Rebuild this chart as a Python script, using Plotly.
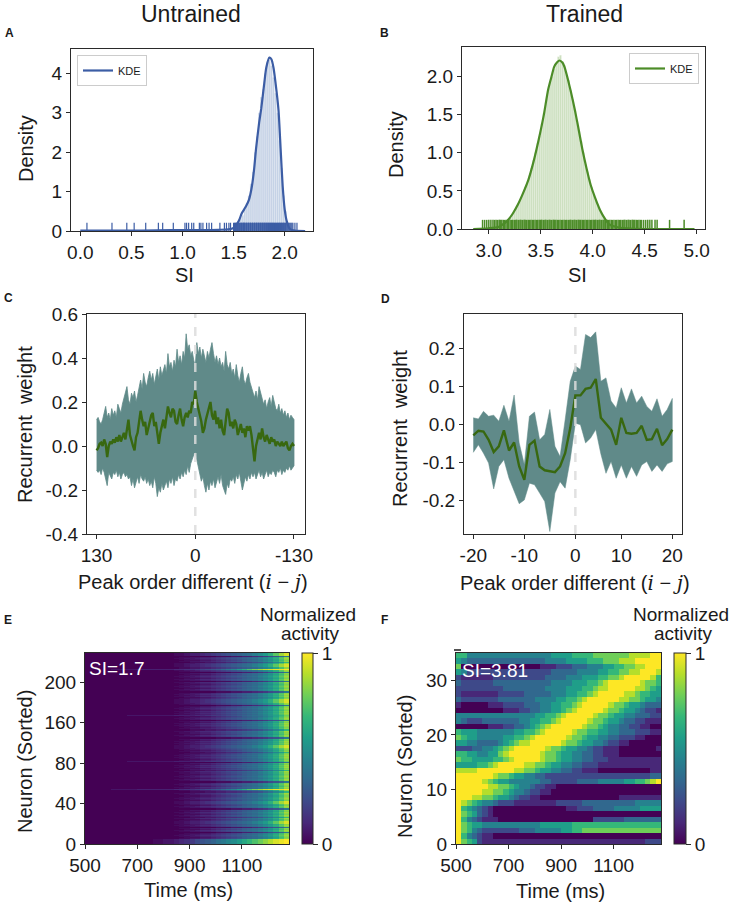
import plotly.graph_objects as go

W, H = 736, 909
FONT = "Liberation Sans"
INK = "#1a1a1a"

# ---------------- data ----------------
# A: untrained SI distribution
A_BIN_START, A_BIN_W = 1.50, 0.02
A_HIST = [0.05, 0.10, 0.20, 0.35, 0.40, 0.55, 0.70, 0.90, 1.20, 1.50,
          2.00, 2.40, 3.00, 3.40, 3.60, 4.00, 4.30, 4.35, 4.20, 3.90,
          3.50, 3.00, 2.30, 1.60, 0.90, 0.50, 0.20, 0.08, 0.05, 0.03]
A_KDE_X = [0.0, 0.3, 0.6, 0.9, 1.2, 1.35, 1.45, 1.50, 1.55, 1.58, 1.62, 1.65, 1.68, 1.70, 1.72,
           1.75, 1.77, 1.80, 1.82, 1.85, 1.87, 1.89, 1.92, 1.94, 1.96, 1.98, 2.00, 2.02, 2.05, 2.10, 2.20]
A_KDE_Y = [0.01, 0.01, 0.01, 0.02, 0.02, 0.03, 0.04, 0.08, 0.25, 0.45, 0.62, 0.79, 1.15, 1.55, 2.10,
           2.75, 3.10, 3.75, 4.15, 4.40, 4.36, 4.15, 3.55, 3.05, 2.10, 1.15, 0.55, 0.25, 0.05, 0.01, 0.00]
A_RUG = [0.065, 0.31, 0.455, 0.527, 0.64, 0.764, 0.806, 0.91, 1.024, 1.04, 1.06, 1.09, 1.11, 1.165,
         1.18, 1.20, 1.236, 1.26, 1.285, 1.366, 1.41, 1.43, 1.454, 1.47,
         1.50, 1.51, 1.515, 1.52, 1.53, 1.535, 1.54, 1.55, 1.555, 1.56, 1.57, 1.575, 1.58, 1.59,
         1.595, 1.60, 1.605, 1.61, 1.62, 1.625, 1.63, 1.64, 1.645, 1.65, 1.66, 1.665, 1.67, 1.68,
         1.685, 1.69, 1.70, 1.705, 1.71, 1.72, 1.725, 1.73, 1.74, 1.745, 1.75, 1.76, 1.765, 1.77,
         1.78, 1.785, 1.79, 1.80, 1.805, 1.81, 1.82, 1.825, 1.83, 1.84, 1.845, 1.85, 1.86, 1.865,
         1.87, 1.88, 1.885, 1.89, 1.90, 1.905, 1.91, 1.92, 1.925, 1.93, 1.94, 1.945, 1.95, 1.96,
         1.965, 1.97, 1.98, 1.985, 1.99, 2.00, 2.005, 2.01, 2.02, 2.03, 2.04, 2.05, 2.06, 2.07,
         2.08, 2.10, 2.12]

# B: trained SI distribution
B_BIN_START, B_BIN_W = 3.10, 0.02
B_HIST = [0.02, 0.03, 0.05, 0.08, 0.10, 0.15, 0.20, 0.24, 0.30, 0.34,
          0.42, 0.48, 0.55, 0.60, 0.70, 0.80, 0.90, 1.00, 1.12, 1.22,
          1.38, 1.52, 1.65, 1.80, 1.92, 2.00, 2.10, 2.18, 2.26, 2.28,
          2.20, 2.15, 2.02, 1.95, 1.82, 1.70, 1.55, 1.40, 1.28, 1.15,
          1.00, 0.85, 0.75, 0.65, 0.55, 0.45, 0.38, 0.32, 0.25, 0.20,
          0.16, 0.12, 0.09, 0.07, 0.05, 0.04, 0.03, 0.02, 0.02, 0.01]
B_KDE_X = [2.85, 3.00, 3.10, 3.18, 3.23, 3.28, 3.33, 3.38, 3.43, 3.48, 3.53, 3.57, 3.60, 3.63, 3.66, 3.68,
           3.71, 3.73, 3.76, 3.79, 3.83, 3.86, 3.90, 3.94, 3.98, 4.02, 4.07, 4.12, 4.16, 4.25, 4.50, 4.98]
B_KDE_Y = [0.00, 0.01, 0.03, 0.11, 0.20, 0.32, 0.47, 0.64, 0.88, 1.17, 1.50, 1.82, 1.98, 2.13, 2.19, 2.21,
           2.18, 2.12, 1.97, 1.80, 1.55, 1.34, 1.05, 0.80, 0.58, 0.42, 0.25, 0.13, 0.06, 0.02, 0.00, 0.00]
B_RUG = [2.94, 2.96, 2.98, 3.00, 3.02, 3.04, 3.055,
         3.07, 3.085, 3.10, 3.11, 3.125, 3.14, 3.15, 3.165, 3.18, 3.19, 3.205, 3.22, 3.23, 3.245,
         3.26, 3.27, 3.285, 3.30, 3.31, 3.325, 3.34, 3.35, 3.365, 3.38, 3.39, 3.405, 3.42, 3.43,
         3.445, 3.46, 3.47, 3.485, 3.50, 3.51, 3.525, 3.54, 3.55, 3.565, 3.58, 3.59, 3.605, 3.62,
         3.63, 3.645, 3.66, 3.67, 3.685, 3.70, 3.71, 3.725, 3.74, 3.75, 3.765, 3.78, 3.79, 3.805,
         3.82, 3.83, 3.845, 3.86, 3.87, 3.885, 3.90, 3.91, 3.925, 3.94, 3.95, 3.965, 3.98, 3.99,
         4.005, 4.02, 4.03, 4.045, 4.06, 4.07, 4.085, 4.10, 4.11, 4.125, 4.14, 4.15, 4.165, 4.18,
         4.19, 4.205, 4.22, 4.23, 4.245, 4.26, 4.27, 4.285, 4.30, 4.31, 4.325, 4.34, 4.35, 4.365,
         4.38, 4.39, 4.405, 4.42, 4.43, 4.445, 4.46, 4.47, 4.49, 4.51, 4.53, 4.55, 4.57, 4.60,
         4.62, 4.74, 4.88]

# C: untrained recurrent weight vs peak order difference (130 .. -130, step 2)
C_PEAK_ORDER = list(range(130, -131, -2))
C_UPPER = [0.12, 0.13, 0.11, 0.10, 0.12, 0.16, 0.18, 0.13, 0.15, 0.12,
           0.17, 0.14, 0.16, 0.13, 0.19, 0.17, 0.15, 0.19, 0.22, 0.25,
           0.27, 0.21, 0.19, 0.24, 0.22, 0.25, 0.20, 0.23, 0.27, 0.30,
           0.26, 0.33, 0.29, 0.27, 0.31, 0.34, 0.30, 0.33, 0.28, 0.31,
           0.35, 0.30, 0.36, 0.32, 0.34, 0.37, 0.33, 0.42, 0.36, 0.38,
           0.34, 0.39, 0.36, 0.44, 0.38, 0.41, 0.37, 0.43, 0.40, 0.51,
           0.44, 0.46, 0.41, 0.43, 0.39, 0.36, 0.47, 0.42, 0.45, 0.40,
           0.44, 0.41, 0.38, 0.43, 0.40, 0.44, 0.47, 0.42, 0.38, 0.41,
           0.37, 0.40, 0.36, 0.38, 0.34, 0.43, 0.37, 0.35, 0.38, 0.33,
           0.35, 0.31, 0.37, 0.32, 0.29, 0.33, 0.36, 0.30, 0.28, 0.31,
           0.33, 0.29, 0.27, 0.24, 0.22, 0.25, 0.21, 0.27, 0.24, 0.22,
           0.19, 0.21, 0.17, 0.20, 0.22, 0.18, 0.23, 0.20, 0.17, 0.16,
           0.19, 0.15, 0.17, 0.14, 0.16, 0.13, 0.15, 0.12, 0.14, 0.13,
           0.12]
C_LOWER = [-0.11, -0.12, -0.11, -0.13, -0.10, -0.12, -0.14, -0.18, -0.12, -0.13,
           -0.15, -0.12, -0.13, -0.11, -0.14, -0.12, -0.15, -0.13, -0.12, -0.14,
           -0.13, -0.15, -0.14, -0.18, -0.15, -0.19, -0.16, -0.14, -0.17, -0.13,
           -0.15, -0.16, -0.14, -0.17, -0.15, -0.18, -0.16, -0.19, -0.14, -0.17,
           -0.23, -0.19, -0.21, -0.17, -0.20, -0.18, -0.16, -0.19, -0.15, -0.17,
           -0.14, -0.18, -0.15, -0.16, -0.13, -0.15, -0.12, -0.14, -0.11, -0.13,
           -0.09, -0.12, -0.08, -0.06, -0.04, -0.03, -0.07, -0.10, -0.13, -0.16,
           -0.14, -0.18, -0.21, -0.17, -0.20, -0.16, -0.18, -0.15, -0.19, -0.16,
           -0.14, -0.17, -0.13, -0.18, -0.20, -0.22, -0.17, -0.19, -0.15, -0.16,
           -0.14, -0.17, -0.13, -0.15, -0.12, -0.16, -0.20, -0.17, -0.14, -0.16,
           -0.13, -0.15, -0.12, -0.14, -0.12, -0.15, -0.13, -0.11, -0.14, -0.12,
           -0.15, -0.13, -0.11, -0.14, -0.12, -0.13, -0.11, -0.12, -0.14, -0.11,
           -0.12, -0.10, -0.13, -0.11, -0.12, -0.10, -0.11, -0.09, -0.11, -0.10,
           -0.09]
C_MEAN = [-0.02, -0.01, 0.01, 0.015, 0.00, 0.03, 0.01, -0.05, 0.00, 0.02,
          0.01, 0.03, 0.015, 0.04, 0.02, 0.05, 0.02, 0.04, 0.06, 0.03,
          0.07, 0.12, 0.05, 0.02, 0.00, -0.02, 0.04, 0.06, 0.10, 0.16,
          0.12, 0.09, 0.11, 0.05, 0.08, 0.12, 0.14, 0.15, 0.09, 0.11,
          0.07, 0.01, 0.06, 0.09, 0.12, 0.08, 0.14, 0.18, 0.15, 0.13,
          0.17, 0.16, 0.11, 0.10, 0.14, 0.17, 0.12, 0.09, 0.13, 0.15,
          0.13, 0.16, 0.15, 0.20, 0.19, 0.25, 0.20, 0.17, 0.13, 0.11,
          0.06, 0.08, 0.12, 0.15, 0.18, 0.20, 0.14, 0.12, 0.16, 0.10,
          0.13, 0.08, 0.12, 0.07, 0.05, 0.10, 0.17, 0.15, 0.09, 0.11,
          0.08, 0.12, 0.10, 0.05, 0.07, 0.10, 0.06, 0.08, 0.04, 0.09,
          0.07, 0.09, 0.05, -0.02, -0.07, 0.00, 0.04, 0.06, 0.03, 0.08,
          0.04, 0.02, 0.05, 0.03, 0.01, 0.04, 0.02, 0.03, 0.00, 0.02,
          0.01, 0.00, 0.02, 0.00, 0.01, 0.02, -0.01, -0.02, 0.00, 0.01,
          0.00]
C_TICKS = [130, 0, -130]
C_TICKTEXT = ["130", "0", "-130"]

# D: trained recurrent weight (40 bins, labelled -20 .. 20)
D_INDEX = list(range(40))
D_TICKVALS = [0, 10, 20, 29, 39]
D_TICKTEXT = ["-20", "-10", "0", "10", "20"]
D_MEAN = [-0.028, -0.016, -0.018, -0.040, -0.072, -0.057, -0.015, -0.068, -0.047, -0.110,
          -0.145, -0.053, -0.042, -0.110, -0.120, -0.123, -0.125, -0.110, -0.075, -0.009,
          0.077, 0.077, 0.094, 0.097, 0.120, 0.018, 0.003, -0.013, -0.053, 0.018,
          -0.022, -0.024, -0.022, -0.003, -0.040, -0.038, -0.011, -0.054, -0.038, -0.013]
D_UPPER = [0.018, 0.015, 0.035, 0.022, 0.025, 0.009, 0.051, 0.009, 0.078, -0.048,
           -0.105, 0.022, 0.033, -0.040, -0.026, 0.040, -0.057, -0.084, 0.013, 0.114,
           0.154, 0.145, 0.237, 0.229, 0.244, 0.114, 0.123, 0.062, 0.044, 0.097,
           0.057, 0.094, 0.057, 0.075, 0.048, 0.035, 0.068, 0.022, 0.040, 0.069]
D_LOWER = [-0.073, -0.053, -0.075, -0.101, -0.169, -0.110, -0.092, -0.141, -0.172, -0.208,
           -0.198, -0.154, -0.158, -0.180, -0.202, -0.281, -0.180, -0.150, -0.167, -0.092,
           0.004, 0.000, -0.048, -0.035, -0.013, -0.077, -0.128, -0.097, -0.141, -0.106,
           -0.141, -0.110, -0.136, -0.106, -0.097, -0.123, -0.106, -0.123, -0.103, -0.097]

# E / F: normalized activity, 39 time bins of 20 ms starting at 500 ms
TIME_START, TIME_BIN = 500, 20
# E cells: base-36 character c -> value int(c, 36) / 35
E_TEMPLATES = {
    "a": "0000000000000000" + "00112" + "23345" + "6789A" + "BCEGILPT",
    "b": "0000000000000000" + "00001" + "11223" + "34456" + "789BDGJN",
    "c": "0000000000000000" + "01123" + "34567" + "89ABC" + "DFHJMQUX",
    "d": "00000" + "22222333333" + "344556789" + "ACEGJM" + "PSUWXYYZ",
    "e": "000000000000" + "0112234568" + "9ABDEGHJLN" + "PRTVXYZ",
    "f": "00000000" + "2222222223" + "333445667" + "89ABCD" + "EGIKNR",
    "g": "0000000000000000" + "00000" + "00001" + "11223" + "345689BE",
    "h": "0000000000000000" + "00011" + "12234" + "5678A" + "BCDFHKOS",
    "i": "0000000000000000" + "01122" + "34456" + "789AB" + "CDFHJMQU",
}
# template used by each sorted neuron, from neuron 0 upwards
E_ROW_PATTERN = ("eeeeeahaia" "hgaihagaia" "cccahibaih" "aihaggaiha" "ccchaiahai"
                 "bbadaihaia" "ggaihaiaha" "aibahiaiha" "gfahaiaiah" "bahaicccai"
                 "aihaggaiha" "aibbahaiai" "hagaiahfai" "aihaiahgai" "cccahiaiag"
                 "gaihaiahai" "gaihaiahag" "aidaacccib" "ahaiagccc")
E_YTICKS = [0, 40, 80, 120, 160]
E_YTICKTEXT = ["0", "40", "80", "160", "200"]

# F rows listed from the top neuron (34) down to neuron 0; digit d -> d / 9
F_ROWS_TOP_DOWN = [
    "66" + "444444444444444455" + "5566667777" + "777888899",
    "54" + "33333333333333" + "3444455556" + "66777888" + "99999",
    "7" + "000000000000000" + "1112223334" + "44556677" + "88999",
    "54" + "22222222222222" + "2233333444" + "455667788" + "9998",
    "21" + "11111222222222" + "2333344455" + "56677" + "8999998" + "6",
    "32" + "22222333333333" + "3344445556" + "678" + "999999" + "8776",
    "22" + "22222223333333" + "3444455566" + "7" + "889999988" + "765",
    "21" + "11111122222333" + "33444556" + "678999998" + "876655",
    "32" + "22222233333334" + "44455667" + "89999998" + "8776554",
    "10" + "000011122" + "223334455667" + "8999998" + "776554333",
    "00" + "000000011" + "1223344556" + "78999998" + "7765543221",
    "44" + "444444444" + "444455667" + "8999998" + "776554433322",
    "43" + "222333333" + "34455667" + "8999998" + "7765543322111",
    "00" + "0000111" + "22334567" + "89999998" + "77654433221100",
    "65" + "55444444" + "455667" + "8999998" + "7766554433322211",
    "76" + "5544444" + "55667" + "89999998" + "77655443322211000",
    "55" + "4433334" + "567" + "889999998" + "776554432211000000",
    "22" + "23344" + "567" + "8999999" + "8776554432211100000001",
    "66" + "554455" + "789999998" + "7765544332211100000000",
    "76" + "6555" + "5667" + "899999" + "87765544332221111111111",
    "55" + "5566" + "78999998" + "8776554433222111111111111",
    "88" + "88" + "9999999" + "8877655443322111000000000011",
    "99999998" + "7765" + "54433" + "2222222222222222222233",
    "99999" + "8" + "7" + "65" + "5444444" + "3322222" + "33334444" + "455667" + "89",
    "99" + "99998" + "87765443221100000000000000000000",
    "99" + "9998" + "877654432211000000000000000000000",
    "99" + "98" + "87765543221100000000000000011111111",
    "98" + "7654432221111111122222333333333344444",
    "96" + "5432100000000000000112223333444445555",
    "97" + "6532100000000000000000000000000000000",
    "96" + "4321110000000000000000002222223333333",
    "97" + "6554444444444455555566666666666666666",
    "97" + "6432222222333444445566777777777777777",
    "96" + "4321100000000000000000000000000000000",
    "97" + "6521111111111111111111111111111111222",
]
F_YTICKS = [0, 10, 20, 30]
TIME_TICKS = [500, 700, 900, 1100]

# ---------------- styles ----------------
BLUE = "rgb(60,93,165)"
BLUE_FILL = "rgba(76,114,176,0.32)"
GREEN = "rgb(76,140,40)"
GREEN_FILL = "rgba(100,160,60,0.32)"
BAND = "rgb(96,138,137)"
MEAN_GREEN = "rgb(56,104,16)"
N_COLS = 39


def dom_x(a, b):
    return [a / W, b / W]


def dom_y(top, bottom):
    return [1 - bottom / H, 1 - top / H]


def axis(domain, rng, anchor, tickvals=None, ticktext=None, dtick=None, fmt=None):
    d = dict(domain=domain, range=rng, anchor=anchor, showline=True, mirror=True,
             linecolor="#2a2a2a", linewidth=1, ticks="outside", ticklen=4, tickwidth=1,
             tickcolor="#2a2a2a", tickfont=dict(size=19, family=FONT, color=INK),
             showgrid=False, zeroline=False, fixedrange=True, automargin=False)
    if tickvals is not None:
        d.update(tickmode="array", tickvals=tickvals)
        if ticktext is not None:
            d["ticktext"] = ticktext
    if dtick is not None:
        d.update(tick0=0, dtick=dtick)
    if fmt is not None:
        d["tickformat"] = fmt
    return d


def rug(vals, h):
    xs, ys = [], []
    for v in vals:
        xs += [v, v, None]
        ys += [0, h, None]
    return xs, ys


def cells(row, base, scale):
    row = (row + row[-1] * N_COLS)[:N_COLS]
    return [int(ch, base) / scale for ch in row]


def colorbar(x_px, thick):
    return dict(x=x_px / W, xanchor="left", xpad=0, y=1 - 748.5 / H, yanchor="middle", ypad=0,
                len=191 / H, lenmode="fraction", thickness=thick, thicknessmode="pixels",
                outlinewidth=1, outlinecolor="#2a2a2a", tickmode="array", tickvals=[0, 1],
                ticktext=["0", "1"], ticks="outside", ticklen=5, tickcolor="#2a2a2a",
                tickfont=dict(size=19, family=FONT, color=INK))


fig = go.Figure()

# ---- A ----
a_centers = [A_BIN_START + A_BIN_W * (i + 0.5) for i in range(len(A_HIST))]
fig.add_trace(go.Bar(x=a_centers, y=A_HIST, width=A_BIN_W, marker=dict(color=BLUE_FILL,
              line=dict(color="rgba(255,255,255,0.5)", width=0.5)), showlegend=False,
              xaxis="x", yaxis="y"))
rx, ry = rug(A_RUG, 0.21)
fig.add_trace(go.Scatter(x=rx, y=ry, mode="lines", line=dict(color=BLUE, width=1.2),
                         showlegend=False, xaxis="x", yaxis="y"))
fig.add_trace(go.Scatter(x=A_KDE_X, y=A_KDE_Y, mode="lines", name="KDE",
                         line=dict(color=BLUE, width=2.2, shape="spline", smoothing=0.6),
                         legend="legend", xaxis="x", yaxis="y"))

# ---- B ----
b_centers = [B_BIN_START + B_BIN_W * (i + 0.5) for i in range(len(B_HIST))]
fig.add_trace(go.Bar(x=b_centers, y=B_HIST, width=B_BIN_W, marker=dict(color=GREEN_FILL,
              line=dict(color="rgba(255,255,255,0.5)", width=0.5)), showlegend=False,
              xaxis="x2", yaxis="y2"))
rx, ry = rug(B_RUG, 0.12)
fig.add_trace(go.Scatter(x=rx, y=ry, mode="lines", line=dict(color=GREEN, width=1.5),
                         showlegend=False, xaxis="x2", yaxis="y2"))
fig.add_trace(go.Scatter(x=B_KDE_X, y=B_KDE_Y, mode="lines", name="KDE",
                         line=dict(color=GREEN, width=2.2, shape="spline", smoothing=0.6),
                         legend="legend2", xaxis="x2", yaxis="y2"))

# ---- C ----
fig.add_trace(go.Scatter(x=C_PEAK_ORDER + C_PEAK_ORDER[::-1], y=C_UPPER + C_LOWER[::-1],
                         fill="toself", fillcolor=BAND, mode="lines",
                         line=dict(color=BAND, width=0.8), showlegend=False,
                         xaxis="x3", yaxis="y3"))
fig.add_trace(go.Scatter(x=C_PEAK_ORDER, y=C_MEAN, mode="lines",
                         line=dict(color=MEAN_GREEN, width=2.4), showlegend=False,
                         xaxis="x3", yaxis="y3"))

# ---- D ----
fig.add_trace(go.Scatter(x=D_INDEX + D_INDEX[::-1], y=D_UPPER + D_LOWER[::-1],
                         fill="toself", fillcolor=BAND, mode="lines",
                         line=dict(color=BAND, width=0.5), showlegend=False,
                         xaxis="x4", yaxis="y4"))
fig.add_trace(go.Scatter(x=D_INDEX, y=D_MEAN, mode="lines",
                         line=dict(color=MEAN_GREEN, width=2.4), showlegend=False,
                         xaxis="x4", yaxis="y4"))

# ---- E ----
time_centers = [TIME_START + TIME_BIN * (c + 0.5) for c in range(N_COLS)]
e_z = [cells(E_TEMPLATES[p], 36, 35) for p in E_ROW_PATTERN]
e_y = [i + 0.5 for i in range(len(E_ROW_PATTERN))]
fig.add_trace(go.Heatmap(x=time_centers, y=e_y, z=e_z, colorscale="Viridis", zmin=0, zmax=1,
                         zsmooth=False, xaxis="x5", yaxis="y5", colorbar=colorbar(302, 11)))

# ---- F ----
f_rows = F_ROWS_TOP_DOWN[::-1]
f_z = [cells(r, 10, 9) for r in f_rows]
f_y = [i + 0.5 for i in range(len(f_rows))]
fig.add_trace(go.Heatmap(x=time_centers, y=f_y, z=f_z, colorscale="Viridis", zmin=0, zmax=1,
                         zsmooth=False, xaxis="x6", yaxis="y6", colorbar=colorbar(674, 12)))


def ann(text, x, y, size=20, angle=0, color=INK, xanchor="center", yanchor="middle"):
    return dict(text=text, x=x / W, y=1 - y / H, xref="paper", yref="paper", showarrow=False,
                font=dict(size=size, family=FONT, color=color), textangle=angle,
                xanchor=xanchor, yanchor=yanchor, borderpad=0)


ij = ("Peak order different (<span style=\"font-family:'DejaVu Serif'\"><i>i</i></span>"
      " \u2212 <span style=\"font-family:'DejaVu Serif'\"><i>j</i></span>)")
annotations = [
    ann("Untrained", 191, 0, size=23, yanchor="top"),
    ann("Trained", 584, 0, size=23, yanchor="top"),
    ann("<b>A</b>", 9, 33, size=12), ann("<b>B</b>", 384, 33, size=12),
    ann("<b>C</b>", 8, 298, size=12), ann("<b>D</b>", 385, 299, size=12),
    ann("<b>E</b>", 8, 620, size=12), ann("<b>F</b>", 384, 620, size=12),
    ann("Density", 26, 148, angle=-90), ann("SI", 184, 275),
    ann("Density", 396, 144, angle=-90), ann("SI", 577, 275),
    ann("Recurrent\u00a0 weight", 25, 425, angle=-90), ann(ij, 193, 582),
    ann("Recurrent\u00a0 weight", 400, 429, angle=-90), ann(ij, 575, 583),
    ann("Neuron (Sorted)", 25, 762, angle=-90), ann("Time (ms)", 188, 890),
    ann("Neuron (Sorted)", 405, 767, angle=-90), ann("Time (ms)", 560, 891),
    ann("Normalized", 308, 614, size=19), ann("activity", 310, 633, size=19),
    ann("Normalized", 681, 614, size=19), ann("activity", 683, 633, size=19),
    ann("SI=1.7", 88, 668, size=19, color="white", xanchor="left"),
    ann("SI=3.81", 461, 670, size=19, color="white", xanchor="left"),
]

shapes = [
    dict(type="line", xref="x3", yref="y3 domain", x0=0, x1=0, y0=0, y1=1, layer="above",
         line=dict(color="rgba(220,220,220,0.85)", width=2.5, dash="dash")),
    dict(type="line", xref="x4", yref="y4 domain", x0=20, x1=20, y0=0, y1=1, layer="above",
         line=dict(color="rgba(220,220,220,0.85)", width=2.5, dash="dash")),
    # small stray tick mark above the top-left corner of panel F
    dict(type="line", xref="paper", yref="paper", x0=454 / W, x1=461 / W,
         y0=1 - 650 / H, y1=1 - 650 / H, line=dict(color=INK, width=1.5)),
]

legend_style = dict(bgcolor="white", bordercolor="#cccccc", borderwidth=1,
                    font=dict(size=11, family=FONT, color=INK), itemwidth=30,
                    tracegroupgap=0)

fig.update_layout(
    width=W, height=H, margin=dict(l=0, r=0, t=0, b=0, pad=0, autoexpand=False), autosize=False,
    paper_bgcolor="white", plot_bgcolor="white", bargap=0,
    font=dict(family=FONT, color=INK),
    xaxis=axis(dom_x(71, 313), [-0.091, 2.277], "y", dtick=0.5, fmt=".1f"),
    yaxis=axis(dom_y(49, 231), [0, 4.62], "x", tickvals=[0, 1, 2, 3, 4]),
    xaxis2=axis(dom_x(462, 705), [2.742, 5.081], "y2", dtick=0.5, fmt=".1f"),
    yaxis2=axis(dom_y(47, 229), [0, 2.387], "x2", tickvals=[0, 0.5, 1.0, 1.5, 2.0],
                ticktext=["0.0", "0.5", "1.0", "1.5", "2.0"]),
    xaxis3=axis(dom_x(87, 305), [142.6, -144.5], "y3", tickvals=C_TICKS, ticktext=C_TICKTEXT),
    yaxis3=axis(dom_y(314, 534), [-0.4, 0.6], "x3", tickvals=[-0.4, -0.2, 0, 0.2, 0.4, 0.6],
                ticktext=["-0.4", "-0.2", "0.0", "0.2", "0.4", "0.6"]),
    xaxis4=axis(dom_x(464, 682), [-1.82, 40.9], "y4", tickvals=D_TICKVALS, ticktext=D_TICKTEXT),
    yaxis4=axis(dom_y(314, 534), [-0.2876, 0.291], "x4", tickvals=[-0.2, -0.1, 0, 0.1, 0.2],
                ticktext=["-0.2", "-0.1", "0.0", "0.1", "0.2"]),
    xaxis5=axis(dom_x(85, 289), [500, 1280], "y5", tickvals=TIME_TICKS),
    yaxis5=axis(dom_y(653, 844), [0, 189], "x5", tickvals=E_YTICKS, ticktext=E_YTICKTEXT),
    xaxis6=axis(dom_x(456, 661), [500, 1280], "y6", tickvals=TIME_TICKS),
    yaxis6=axis(dom_y(653, 844), [0, 35], "x6", tickvals=F_YTICKS),
    legend=dict(x=77 / W, y=1 - 55 / H, xanchor="left", yanchor="top", **legend_style),
    legend2=dict(x=699 / W, y=1 - 53 / H, xanchor="right", yanchor="top", **legend_style),
    annotations=annotations,
    shapes=shapes,
)

fig.write_html("out.html", config={"displayModeBar": False, "staticPlot": True},
               post_script="document.body.style.margin='0';document.body.style.padding='0';")
